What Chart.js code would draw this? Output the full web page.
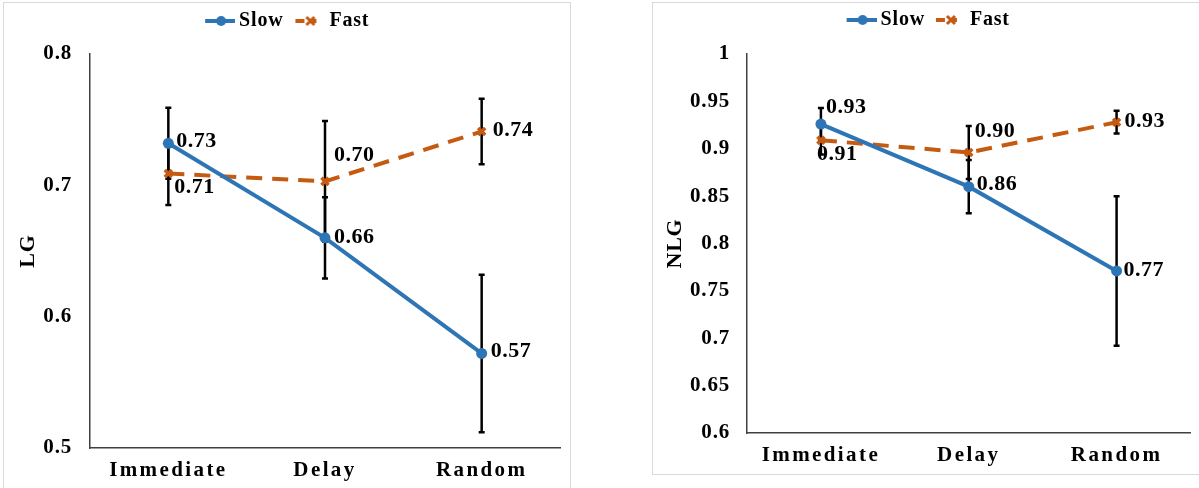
<!DOCTYPE html>
<html>
<head>
<meta charset="utf-8">
<script src="https://cdn.jsdelivr.net/npm/chart.js@4/dist/chart.umd.min.js"></script>
<style>
  body { margin: 0; background: #fff; width: 1199px; height: 488px; position: relative; overflow: hidden; }
  .panel { position: absolute; border: 1px solid #d9d9d9; box-sizing: content-box; }
  #leftPanel { left: 3px; top: 2px; width: 566px; height: 490px; }
  #rightPanel { left: 652px; top: 2px; width: 560px; height: 471px; }
  canvas { display: block; }
</style>
</head>
<body>
<div class="panel" id="leftPanel"><div style="width:566px;height:485px;position:relative"><canvas id="lgChart"></canvas></div></div>
<div class="panel" id="rightPanel"><div style="width:546px;height:471px;position:relative"><canvas id="nlgChart"></canvas></div></div>
<script>
// категорії та значення
const categories = ["Immediate", "Delay", "Random"];

const slowLG = [0.732, 0.660, 0.572];
const fastLG = [0.709, 0.703, 0.741];
const slowErrLG = [0.027, 0.031, 0.060];
const fastErrLG = [0.024, 0.046, 0.025];

const slowNLG = [0.926, 0.860, 0.771];
const fastNLG = [0.909, 0.896, 0.928];
const slowErrNLG = [0.017, 0.028, 0.079];
const fastErrNLG = [0.015, 0.028, 0.012];

const BLUE = "#2E75B6";
const ORANGE = "#C55A11";
const FONT = "'Liberation Serif', 'Times New Roman', serif";

// маркери для легенди
function makeSlowMarker() {
    const c = document.createElement("canvas");
    c.width = 40; c.height = 14;
    const g = c.getContext("2d");
    g.strokeStyle = BLUE; g.lineWidth = 4;
    g.beginPath(); g.moveTo(10, 7); g.lineTo(40, 7); g.stroke();
    g.fillStyle = BLUE;
    g.beginPath(); g.arc(26, 7, 5, 0, Math.PI * 2); g.fill();
    return c;
}
function makeFastMarker() {
    const c = document.createElement("canvas");
    c.width = 28; c.height = 14;
    const g = c.getContext("2d");
    g.strokeStyle = ORANGE; g.lineWidth = 4;
    g.beginPath(); g.moveTo(4, 7); g.lineTo(13, 7); g.stroke();
    g.lineWidth = 3;
    g.beginPath();
    g.moveTo(15, 3); g.lineTo(23, 11);
    g.moveTo(23, 3); g.lineTo(15, 11);
    g.stroke();
    g.lineWidth = 4;
    g.beginPath(); g.moveTo(19, 7); g.lineTo(25, 7); g.stroke();
    return c;
}
const slowMarker = makeSlowMarker();
const fastMarker = makeFastMarker();

// планки похибок (малюються під лініями) + підписи значень
const errorBars = {
    id: "errorBars",
    beforeDatasetsDraw(chart) {
        const ctx = chart.ctx;
        const y = chart.scales.y;
        ctx.save();
        ctx.strokeStyle = "#000";
        ctx.lineWidth = 2.5;
        chart.data.datasets.forEach((ds, i) => {
            const meta = chart.getDatasetMeta(i);
            meta.data.forEach((pt, j) => {
                const top = y.getPixelForValue(ds.data[j] + ds.errors[j]);
                const bot = y.getPixelForValue(ds.data[j] - ds.errors[j]);
                ctx.beginPath();
                ctx.moveTo(pt.x, top); ctx.lineTo(pt.x, bot);
                ctx.moveTo(pt.x - 3, top); ctx.lineTo(pt.x + 3, top);
                ctx.moveTo(pt.x - 3, bot); ctx.lineTo(pt.x + 3, bot);
                ctx.stroke();
            });
        });
        ctx.restore();
    },
    afterDatasetsDraw(chart) {
        const ctx = chart.ctx;
        ctx.save();
        ctx.letterSpacing = "0.5px";
        ctx.font = "bold 22px " + FONT;
        ctx.fillStyle = "#000";
        ctx.textAlign = "left";
        ctx.textBaseline = "middle";
        chart.data.datasets.forEach((ds, i) => {
            const meta = chart.getDatasetMeta(i);
            meta.data.forEach((pt, j) => {
                const off = ds.labelOffsets[j];
                ctx.fillText(ds.data[j].toFixed(2), pt.x + off[0], pt.y + off[1]);
            });
        });
        ctx.restore();
    },
    beforeDraw(chart) {
        chart.ctx.letterSpacing = "0.8px";
        const x = chart.scales.x;
        if (x && !x._spaced) {
            const orig = x.drawLabels;
            x.drawLabels = function (area) {
                const ctx = this.ctx;
                ctx.save();
                ctx.letterSpacing = "2.4px";
                orig.call(this, area);
                ctx.restore();
            };
            x._spaced = true;
        }
    }
};

// додаткове місце під легендою
const legendGap = {
    id: "legendGap",
    beforeInit(chart) {
        const fit = chart.legend.fit;
        const extra = chart.options.plugins.legendGap.extra;
        chart.legend.fit = function () {
            fit.bind(chart.legend)();
            this.height += extra;
        };
    }
};

function makeChart(id, cfg) {
    return new Chart(document.getElementById(id), {
        type: "line",
        data: {
            labels: categories,
            datasets: [{
                label: "Slow",
                data: cfg.slow,
                errors: cfg.slowErr,
                labelOffsets: cfg.slowOffsets,
                borderColor: BLUE,
                backgroundColor: BLUE,
                borderWidth: 4,
                pointRadius: 5.5,
                pointStyle: "circle",
                pointBorderWidth: 0,
                tension: 0
            }, {
                label: "Fast",
                data: cfg.fast,
                errors: cfg.fastErr,
                labelOffsets: cfg.fastOffsets,
                borderColor: ORANGE,
                backgroundColor: ORANGE,
                borderWidth: 4,
                borderDash: [16, 10],
                pointRadius: 5,
                pointStyle: "crossRot",
                pointBorderWidth: 3.5,
                tension: 0
            }]
        },
        options: {
            responsive: true,
            maintainAspectRatio: false,
            animation: false,
            layout: { padding: { top: 0, right: cfg.padRight, left: 0, bottom: 0 } },
            plugins: {
                tooltip: { enabled: false },
                legendGap: { extra: cfg.legendExtra },
                legend: {
                    position: "top",
                    labels: {
                        usePointStyle: true,
                        pointStyleWidth: 28,
                        padding: cfg.legendPad,
                        color: "#000",
                        font: { family: FONT, size: 20, weight: "bold" },
                        generateLabels: () => [
                            { text: "Slow", pointStyle: slowMarker, fontColor: "#000", lineWidth: 0, datasetIndex: 0 },
                            { text: "Fast", pointStyle: fastMarker, fontColor: "#000", lineWidth: 0, datasetIndex: 1 }
                        ]
                    }
                }
            },
            scales: {
                x: {
                    offset: true,
                    grid: { display: false, drawTicks: false },
                    border: { display: true, color: "#404040", width: 1.5 },
                    ticks: {
                        color: "#000",
                        padding: 10,
                        font: { family: FONT, size: 21, weight: "bold" }
                    },
                    afterFit(s) { s.height = cfg.xHeight; }
                },
                y: {
                    min: cfg.min,
                    max: cfg.max,
                    grid: { display: false, drawTicks: false },
                    border: { display: true, color: "#404040", width: 1.5 },
                    title: {
                        display: true,
                        text: cfg.title,
                        color: "#000",
                        padding: { top: cfg.titlePad, bottom: 0 },
                        font: { family: FONT, size: 22, weight: "bold" }
                    },
                    ticks: {
                        stepSize: cfg.step,
                        color: "#000",
                        padding: cfg.tickPad,
                        font: { family: FONT, size: 21, weight: "bold" },
                        callback: (v) => String(Number(v.toFixed(2)))
                    },
                    afterFit(s) { s.width = cfg.yWidth; }
                }
            }
        },
        plugins: [errorBars, legendGap]
    });
}

makeChart("lgChart", {
    slow: slowLG, fast: fastLG, slowErr: slowErrLG, fastErr: fastErrLG,
    slowOffsets: [[8, -2], [9, -1], [9, -2]],
    fastOffsets: [[6, 14], [9, -26], [11, -1]],
    min: 0.5, max: 0.8, step: 0.1, title: "LG",
    yWidth: 86, xHeight: 40, padRight: 10, legendPad: 8, legendExtra: 13,
    titlePad: 11, tickPad: 18
});

makeChart("nlgChart", {
    slow: slowNLG, fast: fastNLG, slowErr: slowErrNLG, fastErr: fastErrNLG,
    slowOffsets: [[5, -17], [8, -2], [7, -1]],
    fastOffsets: [[-4, 14], [6, -21], [8, -1]],
    min: 0.6, max: 1, step: 0.05, title: "NLG",
    yWidth: 94, xHeight: 41, padRight: 6, legendPad: 7, legendExtra: 14,
    titlePad: 9, tickPad: 17
});
</script>
</body>
</html>
